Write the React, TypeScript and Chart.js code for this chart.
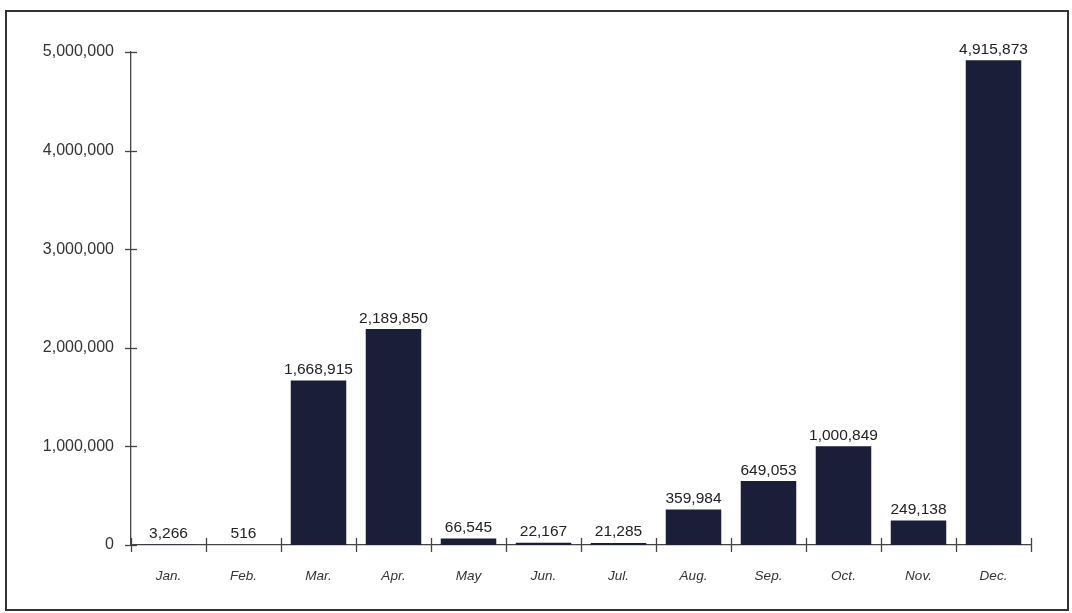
import React, { useEffect, useRef } from "react";
import { Chart, registerables } from "chart.js";

Chart.register(...registerables);

const months = ["Jan.", "Feb.", "Mar.", "Apr.", "May", "Jun.", "Jul.", "Aug.", "Sep.", "Oct.", "Nov.", "Dec."];
const values = [3266, 516, 1668915, 2189850, 66545, 22167, 21285, 359984, 649053, 1000849, 249138, 4915873];
const yTicks = [0, 1000000, 2000000, 3000000, 4000000, 5000000];

const BAR_COLOR = "#1b1e39";
const FONT = "'Liberation Sans', Arial, sans-serif";

const fmt = (v: number) => v.toLocaleString("en-US");

const tickPlugin = {
  id: "crossTicks",
  afterDraw(chart: any) {
    const { ctx, scales } = chart;
    const x = scales.x;
    const y = scales.y;
    ctx.save();
    ctx.strokeStyle = "#444";
    ctx.lineWidth = 1.3;
    const ax = x.left;
    yTicks.forEach((t) => {
      const py = Math.round(y.getPixelForValue(t)) + 0.5;
      ctx.beginPath();
      ctx.moveTo(ax - 6, py);
      ctx.lineTo(ax + 6, py);
      ctx.stroke();
    });
    const ay = y.getPixelForValue(0);
    const half = (x.getPixelForValue(1) - x.getPixelForValue(0)) / 2;
    for (let i = 0; i <= months.length; i++) {
      const px = Math.round(x.getPixelForValue(i) - half) + 0.5;
      ctx.beginPath();
      ctx.moveTo(px, ay - 7);
      ctx.lineTo(px, ay + 7);
      ctx.stroke();
    }
    ctx.fillStyle = "#222";
    ctx.font = `15.5px ${FONT}`;
    ctx.textAlign = "center";
    ctx.textBaseline = "bottom";
    const meta = chart.getDatasetMeta(0);
    meta.data.forEach((bar: any, i: number) => {
      ctx.fillText(fmt(values[i]), bar.x, bar.y - 3);
    });
    ctx.restore();
  },
};

export default function App() {
  const ref = useRef<HTMLCanvasElement | null>(null);

  useEffect(() => {
    if (!ref.current) return;
    const chart = new Chart(ref.current, {
      type: "bar",
      data: {
        labels: months,
        datasets: [
          {
            data: values,
            backgroundColor: BAR_COLOR,
            borderWidth: 0,
            barPercentage: 0.74,
            categoryPercentage: 1,
          },
        ],
      },
      options: {
        responsive: false,
        animation: false,
        layout: { padding: { left: 11, top: 52, right: 41, bottom: 20 } },
        plugins: { legend: { display: false }, tooltip: { enabled: false }, title: { display: false } },
        scales: {
          x: {
            offset: true,
            grid: { display: false, drawTicks: false },
            border: { display: true, color: "#444", width: 1.3 },
            ticks: {
              padding: 23,
              color: "#333",
              font: { family: FONT, size: 13.5, style: "italic" },
            },
            afterFit: (s: any) => {
              s.height = 48;
            },
          },
          y: {
            min: 0,
            max: 5000000,
            afterBuildTicks: (s: any) => {
              s.ticks = yTicks.map((v) => ({ value: v }));
            },
            grid: { display: false, drawTicks: false },
            border: { display: true, color: "#444", width: 1.3 },
            ticks: {
              padding: 17,
              color: "#333",
              font: { family: FONT, size: 16 },
              callback: (v: any) => fmt(Number(v)),
            },
            afterFit: (s: any) => {
              s.width = 120;
            },
          },
        },
      },
      plugins: [tickPlugin],
    });
    return () => chart.destroy();
  }, []);

  return (
    <div
      style={{
        position: "fixed",
        left: 0,
        top: 0,
        width: 1072,
        height: 613,
        background: "#fff",
        overflow: "hidden",
      }}
    >
      <div
        style={{
          position: "absolute",
          left: 5,
          top: 10,
          width: 1064,
          height: 601,
          boxSizing: "border-box",
          border: "2.5px solid #333",
        }}
      />
      <canvas ref={ref} width={1072} height={613} style={{ position: "absolute", left: 0, top: 0 }} />
    </div>
  );
}
